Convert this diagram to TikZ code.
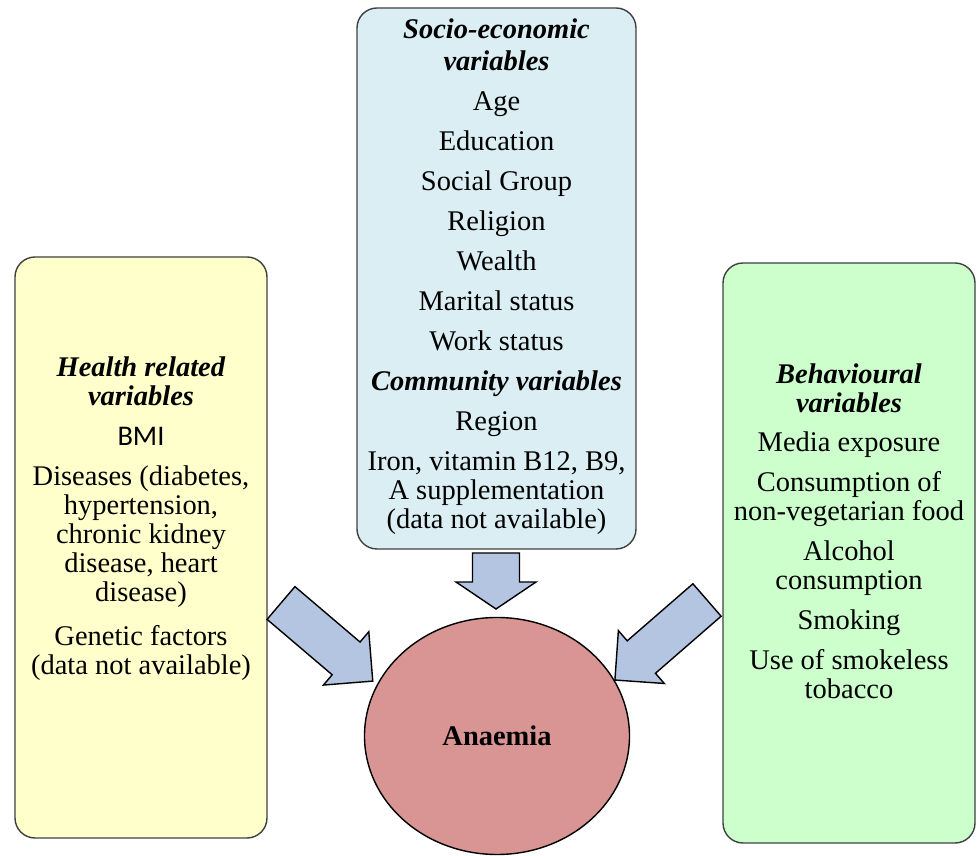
\documentclass[tikz,border=0pt]{standalone}
\usepackage{fontspec}
\setmainfont{Liberation Serif}
\newfontfamily\bmifont{Carlito}
\usepackage{tikz}
\usetikzlibrary{
	shapes.geometric,
	positioning
}

\definecolor{healthfill}{HTML}{FFFFCC}
\definecolor{sociofill}{HTML}{DAEEF3}
\definecolor{behavfill}{HTML}{CCFFCC}
\definecolor{anaemiafill}{HTML}{D99594}
\definecolor{arrowfill}{HTML}{B4C5E2}
\definecolor{boxline}{HTML}{404040}

\newcommand{\head}[1]{\textbf{\textit{#1}}}

\tikzset{
	varbox/.style={draw=boxline,line width=0.8pt,rounded corners=0.4cm,inner sep=0pt},
	vartext/.style={align=center,inner sep=0pt,anchor=north,font=\fontsize{16.2}{16.5}\selectfont},
	blockfill/.style={draw=black,line width=0.8pt,fill=arrowfill,line join=miter},
	pics/blockarrow/.style n args={4}{
		code={
			\draw[blockfill] (0,-#3/2) -- (#1-#2,-#3/2) -- (#1-#2,-#4/2) -- (#1,0)
				-- (#1-#2,#4/2) -- (#1-#2,#3/2) -- (0,#3/2) -- cycle;
		}
	}
}

\begin{document}
\begin{tikzpicture}
	\useasboundingbox (0,0) rectangle (19.54,17.12);

	% boxes
	\node[varbox,fill=healthfill,minimum width=5.04cm,minimum height=11.62cm] (health) at (2.82,6.17) {};
	\node[varbox,fill=sociofill,minimum width=5.58cm,minimum height=10.82cm]  (socio)  at (9.93,11.55) {};
	\node[varbox,fill=behavfill,minimum width=5.04cm,minimum height=11.60cm] (behav)  at (16.98,6.06) {};

	% texts
	\node[vartext] (healthtxt) at (2.82,10.0) {%
		\head{Health related}\\ \head{variables}\\[0.22cm]
		{\bmifont BMI}\\[0.22cm]
		Diseases (diabetes,\\ hypertension,\\ chronic kidney\\ disease, heart\\ disease)\\[0.3cm]
		Genetic factors\\ (data not available)};

	\node[vartext] (sociotxt) at (9.93,16.76) {%
		\head{Socio-economic}\\[0.06cm] \head{variables}\\[0.22cm]
		Age\\[0.22cm] Education\\[0.22cm] Social Group\\[0.22cm] Religion\\[0.22cm]
		Wealth\\[0.22cm] Marital status\\[0.22cm] Work status\\[0.22cm]
		\head{Community variables}\\[0.22cm]
		Region\\[0.22cm]
		Iron, vitamin B12, B9,\\ A supplementation\\ (data not available)};

	\node[vartext] (behavtxt) at (16.98,9.86) {%
		\head{Behavioural}\\ \head{variables}\\[0.2cm]
		Media exposure\\[0.22cm]
		Consumption of\\ non-vegetarian food\\[0.22cm]
		Alcohol\\ consumption\\[0.22cm]
		Smoking\\[0.22cm]
		Use of smokeless\\ tobacco};

	% outcome
	\node[ellipse,draw=black,line width=0.8pt,fill=anaemiafill,minimum width=5.3cm,minimum height=4.74cm,
		font=\fontsize{16.2}{16.5}\selectfont\bfseries] (anaemia) at (9.94,2.40) {Anaemia};

	% block arrows
	\pic[rotate=-40.4] at (5.62,5.06)  {blockarrow={2.41}{0.70}{0.86}{1.40}};
	\pic[rotate=-90]   at (9.92,6.06)  {blockarrow={1.12}{0.54}{0.94}{1.60}};
	\pic[rotate=221]   at (14.14,5.12) {blockarrow={2.44}{0.70}{0.86}{1.40}};
\end{tikzpicture}
\end{document}
